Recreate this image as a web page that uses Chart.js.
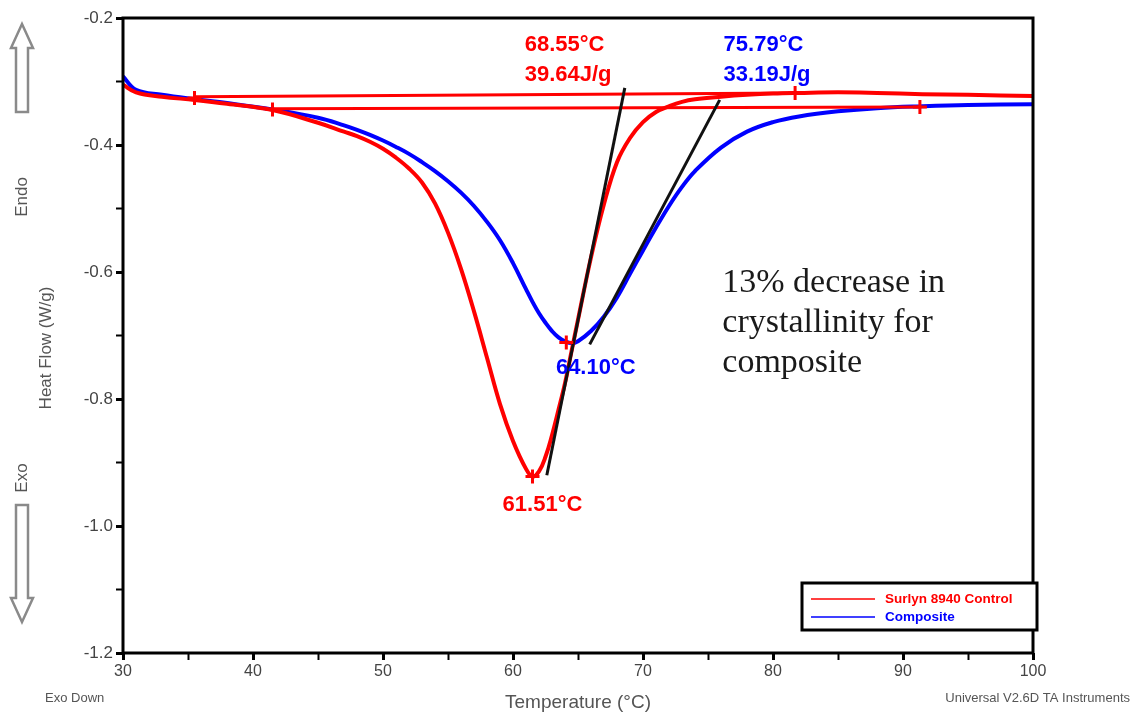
<!DOCTYPE html>
<html>
<head>
<meta charset="utf-8">
<script src="https://cdn.jsdelivr.net/npm/chart.js@4.4.0/dist/chart.umd.min.js"></script>
<style>
  html, body { margin: 0; padding: 0; background: #fff; }
  #wrap { width: 1133px; height: 715px; }
</style>
</head>
<body>
<div id="wrap"><canvas id="dsc-chart" width="1133" height="715"></canvas></div>
<script>
// temperature (°C) and heat flow (W/g)
const temps = [30, 31, 33, 35.5, 38, 41.5, 45, 47, 48, 49, 50, 51, 52, 53, 54, 55, 56, 57, 58, 59, 60, 61, 61.5, 62, 62.5, 63, 63.5, 64, 64.5, 65, 66, 67, 68, 69, 70, 71, 72, 73, 74, 76, 78, 80, 82, 85, 88, 91.5, 95, 100];
const controlFlow = [-0.305, -0.317, -0.324, -0.329, -0.335, -0.345, -0.365, -0.379, -0.386, -0.395, -0.406, -0.420, -0.437, -0.459, -0.492, -0.538, -0.595, -0.662, -0.735, -0.808, -0.866, -0.910, -0.922, -0.914, -0.891, -0.857, -0.817, -0.775, -0.725, -0.675, -0.577, -0.493, -0.427, -0.389, -0.364, -0.348, -0.339, -0.332, -0.328, -0.324, -0.321, -0.319, -0.318, -0.317, -0.318, -0.320, -0.321, -0.323];
const compositeFlow = [-0.292, -0.313, -0.321, -0.328, -0.334, -0.344, -0.357, -0.369, -0.376, -0.384, -0.393, -0.403, -0.414, -0.427, -0.441, -0.457, -0.475, -0.496, -0.521, -0.550, -0.586, -0.627, -0.647, -0.665, -0.680, -0.693, -0.703, -0.709, -0.712, -0.709, -0.693, -0.670, -0.640, -0.603, -0.566, -0.530, -0.496, -0.466, -0.441, -0.404, -0.379, -0.364, -0.355, -0.347, -0.342, -0.339, -0.337, -0.336];

// integration baselines and onset tangents [x0, x1], [y0, y1]
const controlBaseX = [35.5, 81.7];
const controlBaseY = [-0.324, -0.318];
const compositeBaseX = [41.5, 91.3];
const compositeBaseY = [-0.343, -0.340];
const controlTangentX = [62.6, 68.6];
const controlTangentY = [-0.920, -0.310];
const compositeTangentX = [65.9, 75.9];
const compositeTangentY = [-0.714, -0.329];

// limit / peak markers
const markerX = [35.5, 41.5, 81.7, 91.3, 61.5, 64.1];
const markerY = [-0.326, -0.344, -0.318, -0.340, -0.922, -0.711];

const seriesNames = ['Surlyn 8940 Control', 'Composite'];
const xTicks = [30, 40, 50, 60, 70, 80, 90, 100];
const yTicks = [-0.2, -0.4, -0.6, -0.8, -1.0, -1.2];

const RED = 'rgb(255, 0, 0)';
const BLUE = 'rgb(0, 0, 255)';
const SANS = '"Liberation Sans", Arial, sans-serif';

let toPoints = function (xs, ys) {
    return xs.map(function (x, i) { return { x: x, y: ys[i] }; });
};

let isMajor = function (v, step) {
    return Math.abs(v / step - Math.round(v / step)) < 1e-6;
};

let drawArrow = function (ctx, x, yTip, yEnd) {
    let dir = yEnd > yTip ? 1 : -1;
    let headLen = 24, headW = 11, shaftW = 6;
    ctx.beginPath();
    ctx.moveTo(x, yTip);
    ctx.lineTo(x + headW, yTip + dir * headLen);
    ctx.lineTo(x + shaftW, yTip + dir * headLen);
    ctx.lineTo(x + shaftW, yEnd);
    ctx.lineTo(x - shaftW, yEnd);
    ctx.lineTo(x - shaftW, yTip + dir * headLen);
    ctx.lineTo(x - headW, yTip + dir * headLen);
    ctx.closePath();
    ctx.strokeStyle = '#8a8a8a';
    ctx.lineWidth = 2.5;
    ctx.stroke();
};

let decorations = {
    id: 'decorations',
    afterDraw: function (chart) {
        let ctx = chart.ctx;
        let area = chart.chartArea;
        let xs = chart.scales.x, ys = chart.scales.y;
        let px = function (v) { return xs.getPixelForValue(v); };
        let py = function (v) { return ys.getPixelForValue(v); };

        ctx.save();
        // frame
        ctx.strokeStyle = '#000';
        ctx.lineWidth = 3;
        ctx.strokeRect(area.left, area.top, area.right - area.left, area.bottom - area.top);

        // peak / onset labels
        ctx.textBaseline = 'middle';
        ctx.textAlign = 'left';
        ctx.font = 'bold 22px ' + SANS;
        ctx.fillStyle = RED;
        ctx.fillText('68.55°C', px(60.9), py(-0.2425));
        ctx.fillText('39.64J/g', px(60.9), py(-0.290));
        ctx.fillText('61.51°C', px(59.2), py(-0.967));
        ctx.fillStyle = BLUE;
        ctx.fillText('75.79°C', px(76.2), py(-0.2425));
        ctx.fillText('33.19J/g', px(76.2), py(-0.290));
        ctx.fillText('64.10°C', px(63.3), py(-0.751));

        // note
        ctx.fillStyle = '#1a1a1a';
        ctx.font = '34px "Liberation Serif", "Times New Roman", serif';
        ctx.fillText('13% decrease in', px(76.1), py(-0.617));
        ctx.fillText('crystallinity for', px(76.1), py(-0.680));
        ctx.fillText('composite', px(76.1), py(-0.743));

        // legend box
        let lx = 802, ly = 583, lw = 235, lh = 47;
        ctx.fillStyle = '#fff';
        ctx.fillRect(lx, ly, lw, lh);
        ctx.lineWidth = 3;
        ctx.strokeStyle = '#000';
        ctx.strokeRect(lx, ly, lw, lh);
        ctx.lineWidth = 1.5;
        ctx.font = 'bold 13.5px ' + SANS;
        [RED, BLUE].forEach(function (c, i) {
            let yy = ly + 16 + i * 18;
            ctx.strokeStyle = c;
            ctx.beginPath();
            ctx.moveTo(lx + 9, yy);
            ctx.lineTo(lx + 73, yy);
            ctx.stroke();
            ctx.fillStyle = c;
            ctx.fillText(seriesNames[i], lx + 83, yy);
        });

        // outer annotations
        ctx.fillStyle = '#555';
        ctx.font = '19px ' + SANS;
        ctx.textAlign = 'center';
        ctx.fillText('Temperature (°C)', 578, 703);
        ctx.font = '13px ' + SANS;
        ctx.textAlign = 'left';
        ctx.fillText('Exo Down', 45, 698);
        ctx.textAlign = 'right';
        ctx.fillText('Universal V2.6D TA Instruments', 1130, 698);

        let rot = function (text, x, y, font) {
            ctx.save();
            ctx.translate(x, y);
            ctx.rotate(-Math.PI / 2);
            ctx.textAlign = 'center';
            ctx.font = font;
            ctx.fillText(text, 0, 0);
            ctx.restore();
        };
        ctx.fillStyle = '#555';
        rot('Heat Flow (W/g)', 46, 348, '17px ' + SANS);
        rot('Endo', 22, 197, '17px ' + SANS);
        rot('Exo', 22, 478, '17px ' + SANS);
        drawArrow(ctx, 22, 24, 112);
        drawArrow(ctx, 22, 622, 505);
        ctx.restore();
    }
};

let lineSet = function (data, color, width, order) {
    return {
        data: data,
        borderColor: color,
        backgroundColor: color,
        borderWidth: width,
        pointRadius: 0,
        fill: false,
        order: order
    };
};

let datasets = [
    Object.assign(lineSet(toPoints(temps, compositeFlow), BLUE, 4, 5), { label: seriesNames[1], tension: 0.4 }),
    Object.assign(lineSet(toPoints(temps, controlFlow), RED, 4, 4), { label: seriesNames[0], tension: 0.4 }),
    lineSet(toPoints(controlBaseX, controlBaseY), RED, 3, 3),
    lineSet(toPoints(compositeBaseX, compositeBaseY), RED, 3, 3),
    lineSet(toPoints(controlTangentX, controlTangentY), '#111', 3, 2),
    lineSet(toPoints(compositeTangentX, compositeTangentY), '#111', 3, 2),
    {
        data: toPoints(markerX, markerY),
        showLine: false,
        pointStyle: 'cross',
        pointRadius: 7,
        pointBorderWidth: 3,
        borderColor: RED,
        backgroundColor: RED,
        order: 1
    }
];

let ctx = document.getElementById('dsc-chart').getContext('2d');
window.dscChart = new Chart(ctx, {
    type: 'line',
    data: { datasets: datasets },
    options: {
        responsive: false,
        animation: false,
        layout: { padding: { top: 18, right: 100, left: 0, bottom: 0 } },
        plugins: {
            legend: { display: false },
            tooltip: { enabled: false }
        },
        scales: {
            x: {
                type: 'linear',
                min: 30,
                max: 100,
                afterFit: function (scale) { scale.height = 62; },
                afterBuildTicks: function (scale) {
                    let t = [];
                    for (let v = 30; v <= 100; v += 5) t.push({ value: v });
                    scale.ticks = t;
                },
                ticks: {
                    autoSkip: false,
                    maxRotation: 0,
                    padding: 2,
                    color: '#444',
                    font: { family: SANS, size: 16 },
                    callback: function (v) { return xTicks.indexOf(v) >= 0 ? String(v) : ''; }
                },
                grid: {
                    drawOnChartArea: false,
                    tickLength: 7,
                    tickColor: '#000',
                    tickWidth: function (c) { return isMajor(c.tick.value, 10) ? 3 : 2; }
                },
                border: { display: false }
            },
            y: {
                min: -1.2,
                max: -0.2,
                afterFit: function (scale) { scale.width = 123; },
                afterBuildTicks: function (scale) {
                    let t = [];
                    for (let i = 12; i >= 2; i--) t.push({ value: -i / 10 });
                    scale.ticks = t;
                },
                ticks: {
                    autoSkip: false,
                    padding: 3,
                    color: '#444',
                    font: { family: SANS, size: 17 },
                    callback: function (v) {
                        let hit = yTicks.find(function (t) { return Math.abs(t - v) < 1e-6; });
                        return hit !== undefined ? hit.toFixed(1) : '';
                    }
                },
                grid: {
                    drawOnChartArea: false,
                    tickLength: 7,
                    tickColor: '#000',
                    tickWidth: function (c) { return isMajor(c.tick.value, 0.2) ? 3 : 2; }
                },
                border: { display: false }
            }
        }
    },
    plugins: [decorations]
});
</script>
</body>
</html>
